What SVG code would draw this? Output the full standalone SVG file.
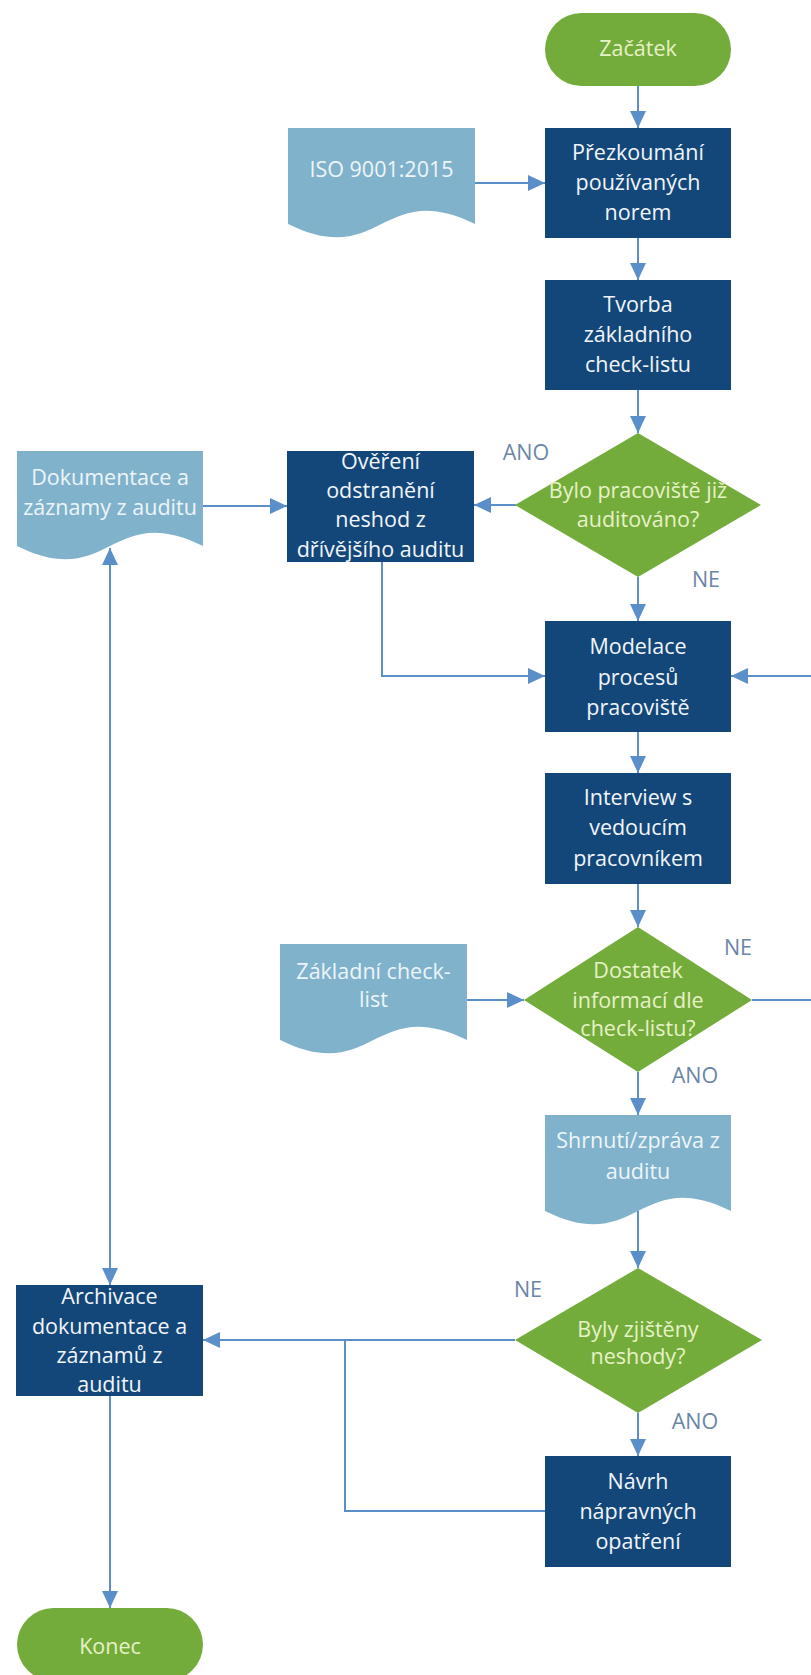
<svg xmlns="http://www.w3.org/2000/svg" width="811" height="1675" viewBox="0 0 811 1675">
  <style>
    .proc { fill: #13477a; }
    .term { fill: #74ac3c; }
    .dec { fill: #74ac3c; }
    .doc { fill: #80b2cc; }
    text { font-family: "Open Sans", "Noto Sans", "DejaVu Sans", sans-serif; font-size: 21.5px; text-anchor: middle; }
    .tp { fill: #f2f5f9; }
    .tg { fill: #e6f2c6; }
    .td { fill: #eef5f9; }
    .lbl { fill: #6a86a8; }
    .conn { fill: none; stroke: #5a8fca; stroke-width: 2; }
  </style>
  <defs>
    <marker id="arrow" markerUnits="userSpaceOnUse" markerWidth="17" markerHeight="16" refX="17" refY="8" orient="auto-start-reverse">
      <path d="M0,0 L17,8 L0,16 Z" fill="#5a8fca"/>
    </marker>
  </defs>

  <rect width="811" height="1675" fill="#ffffff"/>

  <!-- connectors -->
  <g id="connectors">
    <path class="conn" d="M638,86 V128" marker-end="url(#arrow)"/>
    <path class="conn" d="M475,183 H545" marker-end="url(#arrow)"/>
    <path class="conn" d="M638,238 V280" marker-end="url(#arrow)"/>
    <path class="conn" d="M638,390 V433" marker-end="url(#arrow)"/>
    <path class="conn" d="M516,505 H474" marker-end="url(#arrow)"/>
    <path class="conn" d="M203,506 H287" marker-end="url(#arrow)"/>
    <path class="conn" d="M638,577 V621" marker-end="url(#arrow)"/>
    <path class="conn" d="M382,562 V676 H545" marker-end="url(#arrow)"/>
    <path class="conn" d="M638,732 V773" marker-end="url(#arrow)"/>
    <path class="conn" d="M638,884 V927" marker-end="url(#arrow)"/>
    <path class="conn" d="M467,1000 H524" marker-end="url(#arrow)"/>
    <path class="conn" d="M752,1000 H816 V676 H731" marker-end="url(#arrow)"/>
    <path class="conn" d="M638,1072 V1115" marker-end="url(#arrow)"/>
    <path class="conn" d="M638,1211 V1268" marker-end="url(#arrow)"/>
    <path class="conn" d="M515,1340 H203" marker-end="url(#arrow)"/>
    <path class="conn" d="M545,1511 H345 V1340"/>
    <path class="conn" d="M638,1413 V1456" marker-end="url(#arrow)"/>
    <path class="conn" d="M110,548 V1285" marker-start="url(#arrow)" marker-end="url(#arrow)"/>
    <path class="conn" d="M110,1396 V1608" marker-end="url(#arrow)"/>
  </g>

  <!-- start -->
  <g id="start">
    <rect class="term" x="545" y="13" width="186" height="73" rx="36.5"/>
    <text class="tg" x="638" y="56">Začátek</text>
  </g>

  <g id="iso-doc">
    <path class="doc" d="M288,128 H475 V224 C381.5,178 381.5,270 288,224 Z"/>
    <text class="td" x="381.5" y="177">ISO 9001:2015</text>
  </g>

  <g id="review-norms">
    <rect class="proc" x="545" y="128" width="186" height="110"/>
    <text class="tp" x="638" y="160">Přezkoumání</text>
    <text class="tp" x="638" y="190">používaných</text>
    <text class="tp" x="638" y="220">norem</text>
  </g>

  <g id="create-checklist">
    <rect class="proc" x="545" y="280" width="186" height="110"/>
    <text class="tp" x="638" y="312">Tvorba</text>
    <text class="tp" x="638" y="342">základního</text>
    <text class="tp" x="638" y="372">check-listu</text>
  </g>

  <g id="audited-before">
    <polygon class="dec" points="638,433 761,505 638,577 515,505"/>
    <text class="tg" x="638" y="498">Bylo pracoviště již</text>
    <text class="tg" x="638" y="527">auditováno?</text>
  </g>

  <g id="audit-records">
    <path class="doc" d="M17,451 H203 V546 C110,500 110,592 17,546 Z"/>
    <text class="td" x="110" y="485">Dokumentace a</text>
    <text class="td" x="110" y="515">záznamy z auditu</text>
  </g>

  <g id="verify-fixes">
    <rect class="proc" x="287" y="451" width="187" height="111"/>
    <text class="tp" x="380.5" y="469">Ověření</text>
    <text class="tp" x="380.5" y="498">odstranění</text>
    <text class="tp" x="380.5" y="527">neshod z</text>
    <text class="tp" x="380.5" y="557">dřívějšího auditu</text>
  </g>

  <g id="model-processes">
    <rect class="proc" x="545" y="621" width="186" height="111"/>
    <text class="tp" x="638" y="654">Modelace</text>
    <text class="tp" x="638" y="685">procesů</text>
    <text class="tp" x="638" y="715">pracoviště</text>
  </g>

  <g id="interview">
    <rect class="proc" x="545" y="773" width="186" height="111"/>
    <text class="tp" x="638" y="805">Interview s</text>
    <text class="tp" x="638" y="835">vedoucím</text>
    <text class="tp" x="638" y="866">pracovníkem</text>
  </g>

  <g id="basic-checklist">
    <path class="doc" d="M280,944 H467 V1040 C373.5,994 373.5,1086 280,1040 Z"/>
    <text class="td" x="373.5" y="979">Základní check-</text>
    <text class="td" x="373.5" y="1007">list</text>
  </g>

  <g id="enough-info">
    <polygon class="dec" points="638,927 752,1000 638,1072 524,1000"/>
    <text class="tg" x="638" y="978">Dostatek</text>
    <text class="tg" x="638" y="1008">informací dle</text>
    <text class="tg" x="638" y="1036">check-listu?</text>
  </g>

  <g id="audit-report">
    <path class="doc" d="M545,1115 H731 V1211 C638,1165 638,1257 545,1211 Z"/>
    <text class="td" x="638" y="1148">Shrnutí/zpráva z</text>
    <text class="td" x="638" y="1179">auditu</text>
  </g>

  <g id="nonconformities">
    <polygon class="dec" points="638,1268 762,1340 638,1413 515,1340"/>
    <text class="tg" x="638" y="1337">Byly zjištěny</text>
    <text class="tg" x="638" y="1364">neshody?</text>
  </g>

  <g id="corrective-actions">
    <rect class="proc" x="545" y="1456" width="186" height="111"/>
    <text class="tp" x="638" y="1489">Návrh</text>
    <text class="tp" x="638" y="1519">nápravných</text>
    <text class="tp" x="638" y="1549">opatření</text>
  </g>

  <g id="archive">
    <rect class="proc" x="16" y="1285" width="187" height="111"/>
    <text class="tp" x="109.5" y="1304">Archivace</text>
    <text class="tp" x="109.5" y="1334">dokumentace a</text>
    <text class="tp" x="109.5" y="1363">záznamů z</text>
    <text class="tp" x="109.5" y="1392">auditu</text>
  </g>

  <g id="end">
    <rect class="term" x="17" y="1608" width="186" height="73" rx="36.5"/>
    <text class="tg" x="110" y="1654">Konec</text>
  </g>

  <!-- branch labels -->
  <g id="labels">
    <text class="lbl" x="526" y="460">ANO</text>
    <text class="lbl" x="706" y="587">NE</text>
    <text class="lbl" x="738" y="955">NE</text>
    <text class="lbl" x="695" y="1083">ANO</text>
    <text class="lbl" x="528" y="1297">NE</text>
    <text class="lbl" x="695" y="1429">ANO</text>
  </g>
</svg>
